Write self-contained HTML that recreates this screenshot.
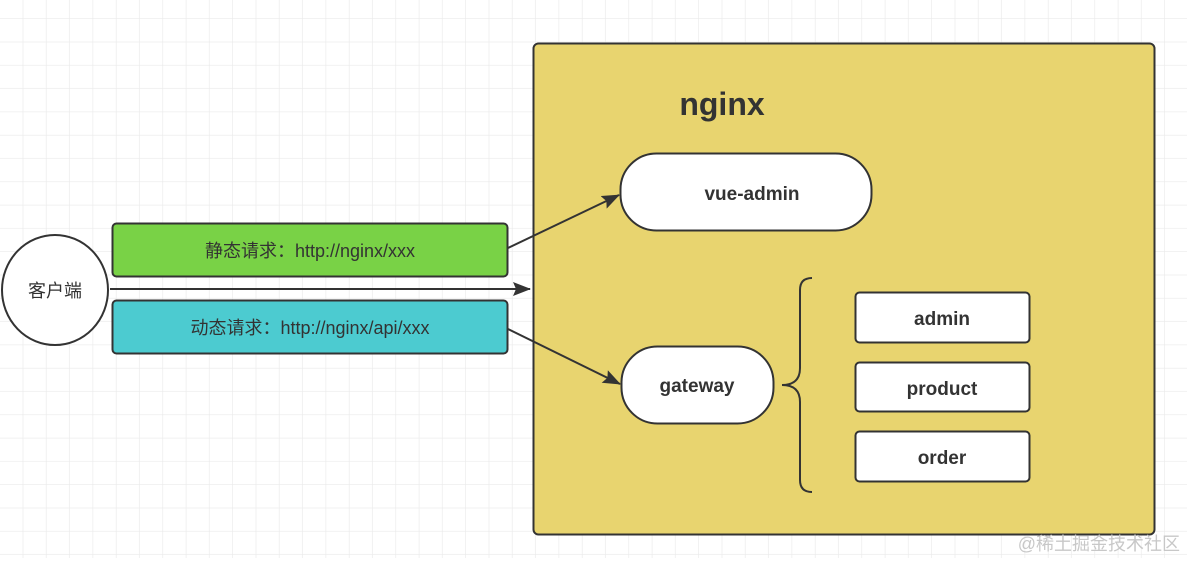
<!DOCTYPE html>
<html><head><meta charset="utf-8"><style>
body{margin:0;width:1187px;height:558px;overflow:hidden;background:#fff}
</style></head><body>
<svg width="1187" height="558" viewBox="0 0 1187 558" xmlns="http://www.w3.org/2000/svg" font-family="Liberation Sans, Noto Sans CJK SC, sans-serif">
<defs>
<pattern id="g" x="0" y="19" width="23.3" height="23.3" patternUnits="userSpaceOnUse">
<path d="M23.3 0V23.3M0 23.3H23.3" stroke="#eaeaea" stroke-width="1.3" fill="none"/>
</pattern>
<marker id="a" markerWidth="18" markerHeight="14" refX="17" refY="7" orient="auto" markerUnits="userSpaceOnUse">
<path d="M0,0L18,7L0,14L3,7z" fill="#333"/>
</marker>
</defs>
<rect width="1187" height="558" fill="url(#g)"/>
<rect x="533.5" y="43.5" width="621" height="491" rx="5" fill="#e8d46f" stroke="#333" stroke-width="2"/>
<text x="722" y="115" font-size="32" font-weight="bold" text-anchor="middle" fill="#333">nginx</text>
<rect x="620.5" y="153.5" width="251" height="77" rx="36" fill="#fff" stroke="#333" stroke-width="2"/>
<text x="752" y="200" font-size="19" font-weight="bold" text-anchor="middle" fill="#333">vue-admin</text>
<rect x="621.5" y="346.5" width="152" height="77" rx="36" fill="#fff" stroke="#333" stroke-width="2"/>
<text x="697" y="392" font-size="19" font-weight="bold" text-anchor="middle" fill="#333">gateway</text>
<rect x="855.5" y="292.5" width="174" height="50" rx="4" fill="#fff" stroke="#333" stroke-width="2"/>
<text x="942" y="325" font-size="19" font-weight="bold" text-anchor="middle" fill="#333">admin</text>
<rect x="855.5" y="362.5" width="174" height="49" rx="4" fill="#fff" stroke="#333" stroke-width="2"/>
<text x="942" y="395" font-size="19" font-weight="bold" text-anchor="middle" fill="#333">product</text>
<rect x="855.5" y="431.5" width="174" height="50" rx="4" fill="#fff" stroke="#333" stroke-width="2"/>
<text x="942" y="464" font-size="19" font-weight="bold" text-anchor="middle" fill="#333">order</text>
<path d="M812,278 Q800,278 800,290 L800,368 Q800,385 782,385 Q800,385 800,402 L800,480 Q800,492 812,492" fill="none" stroke="#333" stroke-width="2"/>
<ellipse cx="55" cy="290" rx="53" ry="55" fill="#fff" stroke="#333" stroke-width="2"/>
<text x="55" y="297" font-size="18" text-anchor="middle" fill="#333">客户端</text>
<rect x="112.5" y="223.5" width="395" height="53" rx="4" fill="#79d246" stroke="#333" stroke-width="2"/>
<text x="310" y="257" font-size="18" text-anchor="middle" fill="#333">静态请求：http://nginx/xxx</text>
<rect x="112.5" y="300.5" width="395" height="53" rx="4" fill="#4ccbd0" stroke="#333" stroke-width="2"/>
<text x="310" y="334" font-size="18" text-anchor="middle" fill="#333">动态请求：http://nginx/api/xxx</text>
<line x1="110" y1="289" x2="530" y2="289" stroke="#333" stroke-width="2" marker-end="url(#a)"/>
<line x1="508" y1="248" x2="619" y2="195" stroke="#333" stroke-width="2" marker-end="url(#a)"/>
<line x1="508" y1="329" x2="620" y2="384" stroke="#333" stroke-width="2" marker-end="url(#a)"/>
<text x="1180" y="550" font-size="18" text-anchor="end" fill="#c8c8c8">@稀土掘金技术社区</text>
</svg>
</body></html>
